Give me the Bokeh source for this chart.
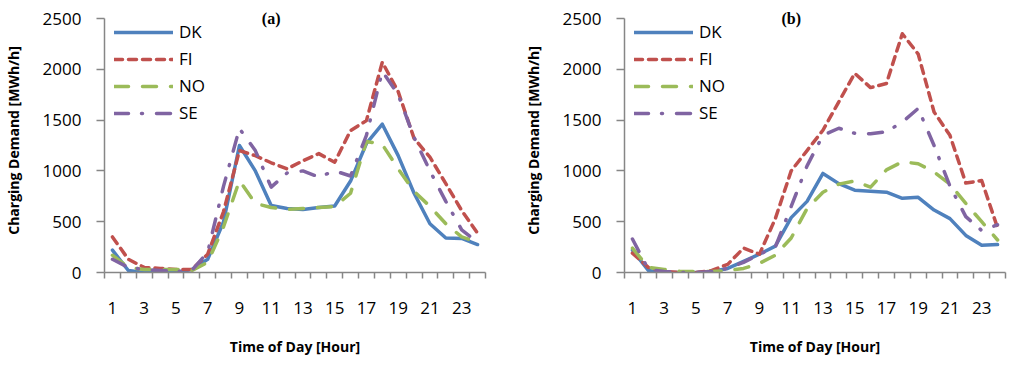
from bokeh.plotting import figure
from bokeh.layouts import row
from bokeh.models import FixedTicker, Range1d, Legend, LegendItem, Label
from bokeh.embed import file_html
from bokeh.resources import INLINE

hours = list(range(1, 25))
tick_labels = [str(h) for h in range(1, 24, 2)]

# Panel (a)
dk_a = [220, 20, 0, 0, 0, 30, 130, 500, 1250, 1000, 660, 630, 620, 640, 655, 900, 1270, 1460, 1150, 780, 480, 340, 335, 275]
fi_a = [350, 130, 50, 40, 30, 30, 180, 600, 1200, 1150, 1080, 1020, 1100, 1170, 1085, 1397, 1495, 2070, 1780, 1320, 1135, 875, 610, 387]
no_a = [170, 50, 30, 30, 30, 20, 100, 450, 905, 680, 640, 620, 630, 640, 650, 780, 1290, 1260, 1020, 800, 650, 480, 350, 300]
se_a = [130, 50, 30, 20, 10, 20, 200, 850, 1417, 1200, 840, 980, 1000, 940, 1000, 950, 1350, 1980, 1750, 1330, 1000, 700, 420, 298]

# Panel (b)
dk_b = [220, 20, 0, 0, 0, 10, 40, 110, 180, 260, 540, 700, 975, 875, 810, 800, 790, 730, 740, 615, 530, 365, 268, 275]
fi_b = [190, 50, 10, 0, 0, 20, 80, 240, 180, 530, 1000, 1200, 1400, 1680, 1960, 1820, 1860, 2350, 2150, 1580, 1350, 880, 905, 440]
no_b = [240, 50, 30, 10, 10, 10, 20, 40, 90, 170, 340, 630, 790, 870, 900, 840, 1010, 1090, 1070, 990, 870, 680, 500, 320]
se_b = [330, 30, 10, 0, 0, 10, 40, 100, 180, 250, 650, 1050, 1350, 1420, 1370, 1365, 1385, 1480, 1615, 1250, 850, 550, 413, 470]

series_names = ["DK", "FI", "NO", "SE"]
panel_labels = ["(a)", "(b)"]
y_ticks = [0, 500, 1000, 1500, 2000, 2500]

COLORS = ["#4F81BD", "#C0504D", "#9BBB59", "#8064A2"]
DASHES = ["solid", "8 6", "14 14", "14 13 1 14"]
AXIS_COL = "#868686"
TICK_FONT = "Open Sans"

Y_MAX = 2500
# extra headroom above the top tick (10 px of a 254 px tall 0..2500 span)
Y_TOP = Y_MAX + 10 * Y_MAX / 254


def make_panel(data, label, width, border_left, border_right):
    p = figure(width=width, height=364, output_backend="svg", toolbar_location=None,
               x_range=Range1d(0.5, 24.5), y_range=Range1d(0, Y_TOP),
               min_border_left=border_left, min_border_right=border_right,
               min_border_top=8, min_border_bottom=92)
    p.outline_line_color = None
    p.grid.visible = False
    p.background_fill_alpha = 0
    p.border_fill_alpha = 0

    items = []
    for name, vals, col, dash in zip(series_names, data, COLORS, DASHES):
        r = p.line(hours, vals, line_color=col, line_width=3.5, line_dash=dash,
                   line_cap="round", line_join="round")
        items.append(LegendItem(label=name, renderers=[r]))

    legend = Legend(items=items, location=(6, 144), margin=0, padding=4,
                    spacing=4, label_height=20, glyph_height=20, glyph_width=59,
                    label_standoff=6, background_fill_alpha=0, border_line_alpha=0,
                    label_text_font=TICK_FONT, label_text_font_size="17px",
                    label_text_color="black")
    p.add_layout(legend)

    # x axis
    xa = p.xaxis[0]
    xa.ticker = FixedTicker(ticks=list(range(1, 24, 2)),
                            minor_ticks=[h + 0.5 for h in range(0, 25)])
    xa.major_label_overrides = {h: s for h, s in zip(range(1, 24, 2), tick_labels)}
    xa.major_tick_out = 6
    xa.major_tick_in = 0
    xa.major_tick_line_color = None
    xa.minor_tick_out = 6
    xa.minor_tick_in = 0
    xa.minor_tick_line_color = AXIS_COL
    xa.minor_tick_line_width = 1.5
    xa.axis_line_color = AXIS_COL
    xa.axis_line_width = 1.5
    xa.major_label_text_font = TICK_FONT
    xa.major_label_text_font_size = "17px"
    xa.major_label_text_color = "black"
    xa.major_label_standoff = 23
    xa.axis_label = "Time of Day [Hour]"
    xa.axis_label_text_font = TICK_FONT
    xa.axis_label_text_font_style = "bold"
    xa.axis_label_text_font_size = "14px"
    xa.axis_label_standoff = 20
    xa.axis_label_text_color = "black"

    # y axis
    ya = p.yaxis[0]
    ya.bounds = (0, Y_MAX)
    ya.ticker = FixedTicker(ticks=y_ticks, minor_ticks=[])
    ya.major_tick_out = 8
    ya.major_tick_in = 0
    ya.major_tick_line_color = AXIS_COL
    ya.major_tick_line_width = 1.5
    ya.axis_line_color = AXIS_COL
    ya.axis_line_width = 1.5
    ya.major_label_text_font = TICK_FONT
    ya.major_label_text_font_size = "17px"
    ya.major_label_text_color = "black"
    ya.major_label_standoff = 15
    ya.axis_label = "Charging Demand [MWh/h]"
    ya.axis_label_text_font = TICK_FONT
    ya.axis_label_text_font_style = "bold"
    ya.axis_label_text_font_size = "14px"
    ya.axis_label_standoff = 17
    ya.axis_label_text_color = "black"

    p.add_layout(Label(x=11, y=Y_MAX, text=label, text_font="Liberation Serif",
                       text_font_style="bold", text_font_size="16px",
                       text_align="center", text_baseline="middle", text_color="black",
                       level="overlay"))
    return p


p1 = make_panel([dk_a, fi_a, no_a, se_a], panel_labels[0], 520, 100, 35)
p2 = make_panel([dk_b, fi_b, no_b, se_b], panel_labels[1], 488, 100, 3)

layout = row(p1, p2)
open("out.html", "w").write(file_html(layout, INLINE))
